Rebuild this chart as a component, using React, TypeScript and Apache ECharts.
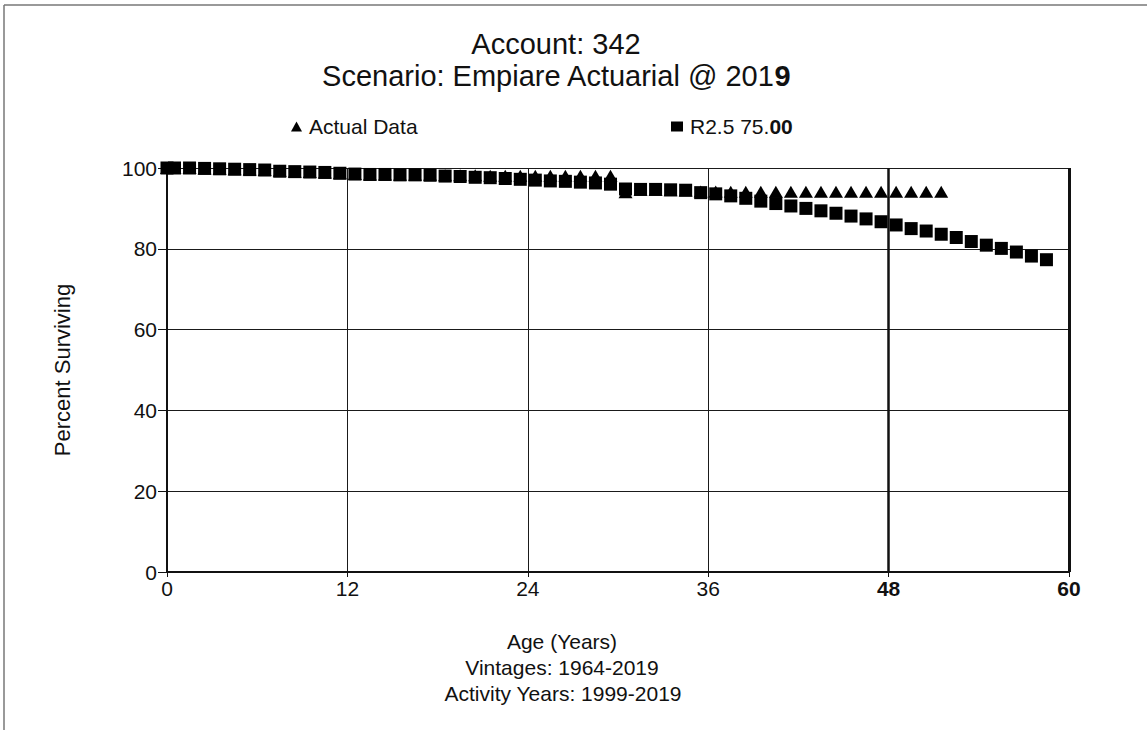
import React, { useEffect, useRef } from "react";
import * as echarts from "echarts";

const xTicks = [0, 12, 24, 36, 48, 60];
const yTicks = [0, 20, 40, 60, 80, 100];

const curveAges = [
  0, 0.5, 1.5, 2.5, 3.5, 4.5, 5.5, 6.5, 7.5, 8.5, 9.5, 10.5, 11.5, 12.5, 13.5, 14.5, 15.5, 16.5, 17.5, 18.5,
  19.5, 20.5, 21.5, 22.5, 23.5, 24.5, 25.5, 26.5, 27.5, 28.5, 29.5, 30.5, 31.5, 32.5, 33.5, 34.5, 35.5, 36.5,
  37.5, 38.5, 39.5, 40.5, 41.5, 42.5, 43.5, 44.5, 45.5, 46.5, 47.5, 48.5, 49.5, 50.5, 51.5, 52.5, 53.5, 54.5,
  55.5, 56.5, 57.5, 58.5,
];
const curveValues = [
  100, 100, 100, 99.9, 99.8, 99.7, 99.6, 99.5, 99.2, 99.1, 99.0, 98.9, 98.7, 98.5, 98.4, 98.4, 98.3, 98.3, 98.2, 98.0,
  97.9, 97.7, 97.6, 97.4, 97.2, 97.0, 96.8, 96.7, 96.5, 96.3, 96.0, 94.8, 94.7, 94.7, 94.6, 94.5, 93.9, 93.6,
  93.1, 92.5, 91.8, 91.2, 90.6, 90.0, 89.4, 88.8, 88.1, 87.4, 86.7, 85.9, 85.0, 84.4, 83.6, 82.8, 81.8, 80.9,
  80.1, 79.2, 78.2, 77.3,
];

const actualAges = [
  0, 0.5, 1.5, 2.5, 3.5, 4.5, 5.5, 6.5, 7.5, 8.5, 9.5, 10.5, 11.5, 12.5, 13.5, 14.5, 15.5, 16.5, 17.5, 18.5,
  19.5, 20.5, 21.5, 22.5, 23.5, 24.5, 25.5, 26.5, 27.5, 28.5, 29.5, 30.5, 31.5, 32.5, 33.5, 34.5, 35.5, 36.5,
  37.5, 38.5, 39.5, 40.5, 41.5, 42.5, 43.5, 44.5, 45.5, 46.5, 47.5, 48.5, 49.5, 50.5, 51.5,
];
const actualValues = [
  100, 100, 100, 99.9, 99.8, 99.7, 99.6, 99.5, 99.3, 99.1, 99.0, 98.9, 98.7, 98.5, 98.4, 98.4, 98.3, 98.3, 98.3, 98.2,
  98.2, 98.2, 98.1, 98.1, 98.1, 98.1, 98.1, 98.1, 98.1, 98.1, 98.1, 94.0, 94.6, 94.6, 94.5, 94.4, 94.2, 94.2,
  94.1, 94.1, 94.1, 94.1, 94.1, 94.1, 94.1, 94.1, 94.1, 94.1, 94.1, 94.1, 94.1, 94.1, 94.1,
];

const boldXTicks = [48, 60];
const FONT = "Liberation Sans, Arial, sans-serif";
const INK = "#111";

export default function App() {
  const ref = useRef<HTMLDivElement>(null);
  useEffect(() => {
    document.body.style.margin = "0";
    const chart = echarts.init(ref.current!, null, { renderer: "svg" });
    const actual = actualAges.map((a, i) => [a, actualValues[i]]);
    const curve = curveAges.map((a, i) => [a, curveValues[i]]);
    const centered = (text: string, x: number, y: number, size: number, rich?: any) => ({
      type: "text",
      x,
      y,
      style: { text, fontSize: size, fontFamily: FONT, fill: INK, align: "center", verticalAlign: "middle", rich },
    });
    chart.setOption({
      animation: false,
      backgroundColor: "#ffffff",
      textStyle: { fontFamily: FONT, color: INK },
      grid: { left: 167, right: 78, top: 168, bottom: 158, containLabel: false },
      legend: [
        {
          data: [{ name: "Actual Data", icon: "triangle" }],
          left: 286,
          top: 111,
          itemWidth: 11,
          itemHeight: 10,
          itemGap: 6,
          textStyle: { fontSize: 21, color: INK, fontFamily: FONT, padding: [0, 0, 0, 2] },
        },
        {
          data: [{ name: "R2.5 75.00", icon: "rect" }],
          left: 666,
          top: 111,
          itemWidth: 12,
          itemHeight: 10,
          formatter: () => "R2.5 75.{b|00}",
          textStyle: {
            fontSize: 21,
            color: INK,
            fontFamily: FONT,
            padding: [0, 0, 0, 2],
            rich: { b: { fontSize: 21, fontWeight: "bold", color: INK, fontFamily: FONT } },
          },
        },
      ],
      xAxis: {
        type: "value",
        min: xTicks[0],
        max: xTicks[xTicks.length - 1],
        interval: 12,
        axisLine: { show: true, lineStyle: { color: INK, width: 2 } },
        axisTick: { show: true, length: 5, inside: false, lineStyle: { color: INK, width: 1 } },
        splitLine: { show: true, lineStyle: { color: "#1a1a1a", width: 1 } },
        axisLabel: {
          fontSize: 21,
          color: INK,
          margin: 6,
          formatter: (v: number) => (boldXTicks.includes(v) ? `{b|${v}}` : `${v}`),
          rich: { b: { fontWeight: "bold", fontSize: 21, color: INK, fontFamily: FONT } },
        },
      },
      yAxis: {
        type: "value",
        min: yTicks[0],
        max: yTicks[yTicks.length - 1],
        interval: 20,
        name: "Percent Surviving",
        nameLocation: "middle",
        nameGap: 94,
        nameTextStyle: { fontSize: 22, color: INK, fontFamily: FONT },
        axisLine: { show: true, lineStyle: { color: INK, width: 2 } },
        axisTick: { show: true, length: 9, lineStyle: { color: INK, width: 1 } },
        splitLine: { show: true, lineStyle: { color: "#1a1a1a", width: 1 } },
        axisLabel: { fontSize: 21, color: INK, margin: 10 },
      },
      series: [
        {
          name: "Actual Data",
          type: "scatter",
          symbol: "triangle",
          symbolSize: [14, 12],
          itemStyle: { color: "#000", opacity: 1 },
          data: actual,
          z: 3,
        },
        {
          name: "R2.5 75.00",
          type: "scatter",
          symbol: "rect",
          symbolSize: 13,
          itemStyle: { color: "#000", opacity: 1 },
          data: curve,
          z: 4,
          markLine: {
            silent: true,
            symbol: "none",
            label: { show: false },
            data: [
              { xAxis: 48, lineStyle: { color: INK, width: 2.5, type: "solid" } },
              { xAxis: 60, lineStyle: { color: INK, width: 3, type: "solid" } },
            ],
          },
        },
      ],
      graphic: [
        { type: "line", shape: { x1: 4, y1: 5, x2: 1147, y2: 5 }, style: { stroke: "#777", lineWidth: 1.5 } },
        { type: "line", shape: { x1: 4, y1: 5, x2: 4, y2: 730 }, style: { stroke: "#777", lineWidth: 1.5 } },
        centered("Account: 342", 556, 44, 29),
        centered("Scenario: Empiare Actuarial @ 201{b|9}", 556, 76, 29, {
          b: { fontSize: 29, fontWeight: "bold", fontFamily: FONT, fill: INK },
        }),
        centered("Age (Years)", 562, 641, 21),
        centered("Vintages: 1964-2019", 562, 667, 21),
        centered("Activity Years: 1999-2019", 563, 693, 21),
      ],
    });
    return () => chart.dispose();
  }, []);
  return <div ref={ref} style={{ width: 1147, height: 730 }} />;
}
